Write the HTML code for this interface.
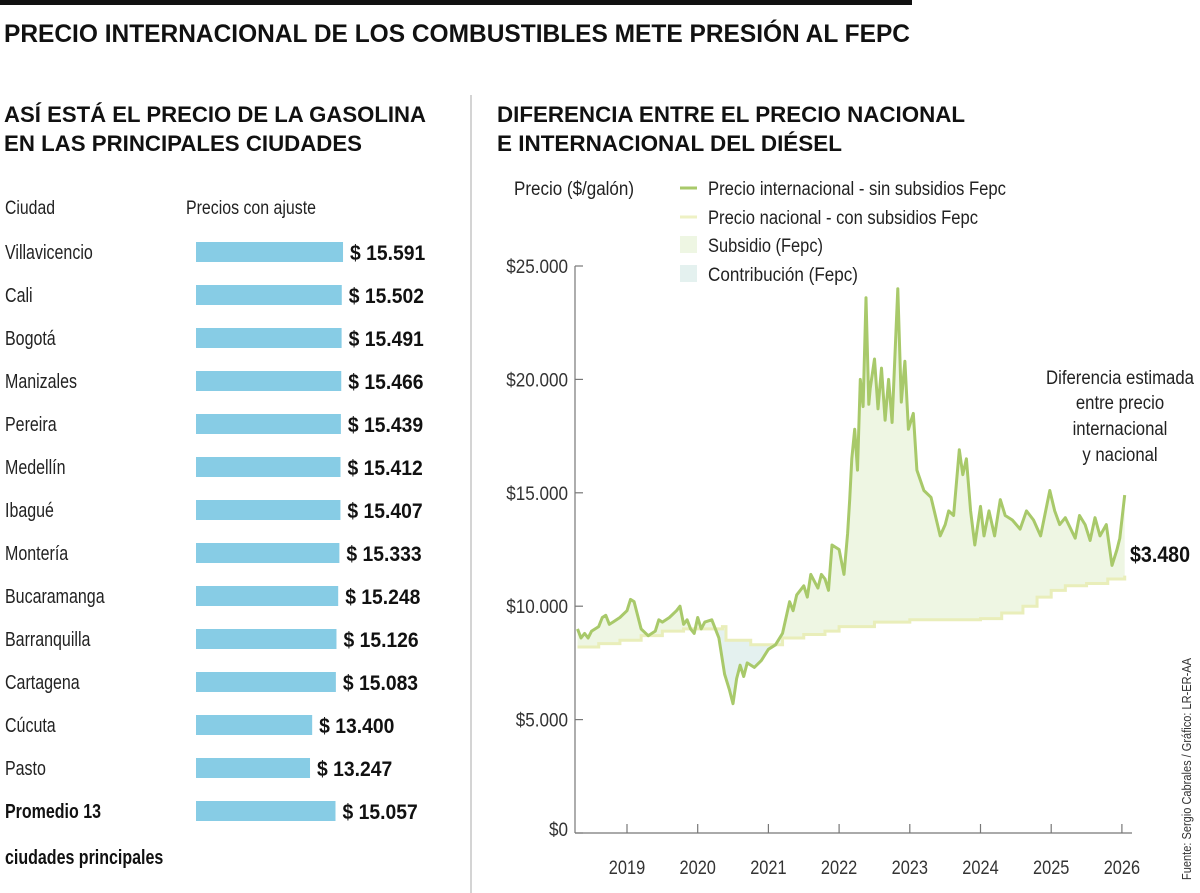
<!DOCTYPE html>
<html><head><meta charset="utf-8">
<style>
body{margin:0;background:#fff;}
svg{display:block;font-family:"Liberation Sans Narrow","Liberation Sans",sans-serif;}
</style></head><body>
<svg id="s" width="1200" height="893" viewBox="0 0 1200 893" xmlns="http://www.w3.org/2000/svg">
<rect x="0" y="0" width="912" height="5" fill="#111"/>
<text x="4" y="42" font-size="25" font-weight="bold" fill="#111" textLength="906" lengthAdjust="spacingAndGlyphs">PRECIO INTERNACIONAL DE LOS COMBUSTIBLES METE PRESIÓN AL FEPC</text>
<line x1="471" y1="95" x2="471" y2="893" stroke="#aaa" stroke-width="1"/>
<text x="4" y="122" font-size="22" font-weight="bold" fill="#111" textLength="422" lengthAdjust="spacingAndGlyphs">ASÍ ESTÁ EL PRECIO DE LA GASOLINA</text>
<text x="4" y="151" font-size="22" font-weight="bold" fill="#111" textLength="358" lengthAdjust="spacingAndGlyphs">EN LAS PRINCIPALES CIUDADES</text>
<text x="497" y="122" font-size="22" font-weight="bold" fill="#111" textLength="468" lengthAdjust="spacingAndGlyphs">DIFERENCIA ENTRE EL PRECIO NACIONAL</text>
<text x="497" y="151" font-size="22" font-weight="bold" fill="#111" textLength="345" lengthAdjust="spacingAndGlyphs">E INTERNACIONAL DEL DIÉSEL</text>
<text x="5" y="214" font-size="19" fill="#222" textLength="50" lengthAdjust="spacingAndGlyphs">Ciudad</text>
<text x="186" y="214" font-size="19" fill="#222" textLength="130" lengthAdjust="spacingAndGlyphs">Precios con ajuste</text>
<g id="bars"></g>
<text x="514" y="195" font-size="19" fill="#222" textLength="120" lengthAdjust="spacingAndGlyphs">Precio ($/galón)</text>
<g>
<line x1="680" y1="188" x2="697" y2="188" stroke="#a8c96a" stroke-width="3"/>
<text x="708" y="195" font-size="19" fill="#222" textLength="298" lengthAdjust="spacingAndGlyphs">Precio internacional - sin subsidios Fepc</text>
<line x1="680" y1="217" x2="697" y2="217" stroke="#eef1c4" stroke-width="3"/>
<text x="708" y="224" font-size="19" fill="#222" textLength="270" lengthAdjust="spacingAndGlyphs">Precio nacional - con subsidios Fepc</text>
<rect x="680" y="236" width="17" height="17" fill="#eef6e3"/>
<text x="708" y="252" font-size="19" fill="#222" textLength="115" lengthAdjust="spacingAndGlyphs">Subsidio (Fepc)</text>
<rect x="680" y="265" width="17" height="17" fill="#e4f1ef"/>
<text x="708" y="281" font-size="19" fill="#222" textLength="150" lengthAdjust="spacingAndGlyphs">Contribución (Fepc)</text>
</g>
<g id="chart"></g>
<g font-size="19" fill="#222" text-anchor="middle">
<text x="1120" y="384" textLength="148" lengthAdjust="spacingAndGlyphs">Diferencia estimada</text>
<text x="1120" y="409" data-c="0.88">entre precio</text>
<text x="1120" y="435" data-c="0.88">internacional</text>
<text x="1120" y="461" data-c="0.88">y nacional</text>
</g>
<text x="1130" y="562" font-size="22" font-weight="bold" fill="#111" textLength="60" lengthAdjust="spacingAndGlyphs">$3.480</text>
<text transform="translate(1191,880) rotate(-90)" font-size="13" fill="#333" textLength="222" lengthAdjust="spacingAndGlyphs">Fuente: Sergio Cabrales / Gráfico: LR-ER-AA</text>
</svg>
<script>
const cities=["Villavicencio","Cali","Bogotá","Manizales","Pereira","Medellín","Ibagué","Montería","Bucaramanga","Barranquilla","Cartagena","Cúcuta","Pasto","Promedio 13"];
const prices=[15591,15502,15491,15466,15439,15412,15407,15333,15248,15126,15083,13400,13247,15057];
const priceLabels=["$ 15.591","$ 15.502","$ 15.491","$ 15.466","$ 15.439","$ 15.412","$ 15.407","$ 15.333","$ 15.248","$ 15.126","$ 15.083","$ 13.400","$ 13.247","$ 15.057"];

const years=[2018.3,2018.35,2018.4,2018.45,2018.5,2018.6,2018.65,2018.7,2018.75,2018.8,2018.9,2019.0,2019.05,2019.1,2019.2,2019.3,2019.4,2019.45,2019.5,2019.6,2019.7,2019.75,2019.8,2019.85,2019.9,2019.95,2020.0,2020.05,2020.1,2020.2,2020.3,2020.38,2020.45,2020.5,2020.55,2020.6,2020.65,2020.7,2020.8,2020.9,2021.0,2021.1,2021.2,2021.3,2021.35,2021.4,2021.5,2021.55,2021.6,2021.7,2021.75,2021.8,2021.85,2021.9,2022.0,2022.07,2022.12,2022.15,2022.18,2022.22,2022.26,2022.3,2022.34,2022.38,2022.42,2022.44,2022.5,2022.55,2022.6,2022.65,2022.7,2022.75,2022.83,2022.88,2022.93,2022.98,2023.05,2023.1,2023.2,2023.3,2023.43,2023.5,2023.55,2023.62,2023.7,2023.75,2023.8,2023.86,2023.92,2024.0,2024.05,2024.12,2024.2,2024.28,2024.35,2024.45,2024.56,2024.65,2024.75,2024.85,2024.98,2025.05,2025.12,2025.2,2025.34,2025.4,2025.48,2025.55,2025.62,2025.69,2025.78,2025.86,2025.93,2025.97,2026.04];
const intlPrice=[9000,8600,8800,8600,8900,9100,9500,9600,9200,9300,9500,9800,10300,10200,9000,8700,8900,9400,9300,9500,9800,10000,9200,9400,9000,8800,9500,9000,9300,9400,8600,7000,6300,5700,6800,7400,6900,7500,7300,7600,8100,8300,8800,10200,9800,10500,10900,10400,11400,10800,11400,11200,10700,12700,12500,11400,13200,14700,16500,17800,16000,20000,18800,23600,18900,19600,20900,18700,20500,18200,20000,18100,24000,19000,20800,17800,18500,16000,15100,14800,13100,13600,14200,14000,16900,15800,16500,14200,12700,14400,13100,14200,13100,14700,14000,13800,13400,14200,13800,13100,15100,14200,13600,13900,13000,14000,13600,12900,13900,13100,13600,11800,12500,13000,14900];
const natYears=[2018.3,2018.6,2018.9,2019.2,2019.5,2019.8,2020.35,2020.4,2020.75,2021.15,2021.2,2021.5,2021.8,2022.0,2022.5,2023.0,2024.0,2024.3,2024.6,2024.8,2025.0,2025.2,2025.5,2025.8,2026.04];
const natPrice=[8200,8350,8500,8700,8900,9000,9100,8500,8300,8300,8600,8750,8900,9100,9300,9400,9450,9700,10000,10400,10700,10900,11000,11200,11350];
const yTickVals=[0,5000,10000,15000,20000,25000];
const yTickLabels=["$0","$5.000","$10.000","$15.000","$20.000","$25.000"];
const xTickVals=[2019,2020,2021,2022,2023,2024,2025,2026];
const xTickLabels=["2019","2020","2021","2022","2023","2024","2025","2026"];

const NS="http://www.w3.org/2000/svg";
function mk(tag,attrs,parent){const e=document.createElementNS(NS,tag);for(const k in attrs)e.setAttribute(k,attrs[k]);parent.appendChild(e);return e;}

// Bars
const bars=document.getElementById('bars');
const bx=196, pxPer=0.01408;
function bw(v){return v*pxPer-72.5;}
cities.forEach((c,i)=>{
  const cy=252+i*43;
  const t=mk('text',{x:5,y:cy+7,'font-size':20,fill:'#222','data-c':'0.8'},bars);
  t.textContent=c;
  
  
  if(i===cities.length-1){t.setAttribute('font-weight','bold');t.setAttribute('fill','#111');}
  const w=bw(prices[i]);
  const r=mk('rect',{x:bx,y:cy-10,width:w,height:20,fill:'#87cce5'},bars);
  
  
  const v=mk('text',{x:bx+w+7,y:cy+8,'font-size':21,'font-weight':'bold',fill:'#111','data-c':'0.92'},bars);
  v.textContent=priceLabels[i];
  
  
});
const extra=mk('text',{x:5,y:864,'font-size':20,fill:'#111','font-weight':'bold','data-c':'0.8'},bars);
extra.textContent="ciudades principales";



// Line chart
const g=document.getElementById('chart');
const X0=575, X1=1132, Y0=833;
function xs(yr){return 627+(yr-2019)*70.7;}
function ys(v){return Y0-v*0.02268;}
function interp(xsArr,ysArr,t){
  if(t<=xsArr[0])return ysArr[0];
  for(let i=1;i<xsArr.length;i++){if(t<=xsArr[i]){const f=(t-xsArr[i-1])/(xsArr[i]-xsArr[i-1]);return ysArr[i-1]+f*(ysArr[i]-ysArr[i-1]);}}
  return ysArr[ysArr.length-1];
}
function stepAt(t){let v=natPrice[0];for(let i=0;i<natYears.length;i++){if(natYears[i]<=t)v=natPrice[i];}return v;}
const grid=[];
const tmin=years[0], tmax=years[years.length-1];
for(let t=tmin;t<=tmax+1e-9;t+=0.005)grid.push(t);
let top1=[],bot1=[],top2=[],bot2=[];
grid.forEach(t=>{
  const a=interp(years,intlPrice,t), n=stepAt(t);
  top1.push([xs(t),ys(Math.max(a,n))]);bot1.push([xs(t),ys(n)]);
  top2.push([xs(t),ys(n)]);bot2.push([xs(t),ys(Math.min(a,n))]);
});
function poly(top,bot){return top.concat(bot.slice().reverse()).map(p=>p[0].toFixed(1)+','+p[1].toFixed(1)).join(' ');}
const sub=mk('polygon',{points:poly(top1,bot1),fill:'#eef6e3'},g);


const con=mk('polygon',{points:poly(top2,bot2),fill:'#e4f1ef'},g);


let d='';
natYears.forEach((t,i)=>{
  if(i===0)d+='M'+xs(t)+','+ys(natPrice[i]);
  else d+=' H'+xs(t)+' V'+ys(natPrice[i]);
});
const nl=mk('path',{d:d,fill:'none',stroke:'#e9eeba','stroke-width':3},g);


const il=mk('polyline',{points:years.map((t,i)=>xs(t).toFixed(1)+','+ys(intlPrice[i]).toFixed(1)).join(' '),fill:'none',stroke:'#a8c96a','stroke-width':3,'stroke-linejoin':'round'},g);


const ya=mk('line',{x1:X0,y1:ys(25000),x2:X0,y2:Y0,stroke:'#777','stroke-width':1.2},g);


const xa=mk('line',{x1:X0,y1:Y0,x2:X1,y2:Y0,stroke:'#777','stroke-width':1.2},g);


yTickVals.forEach((v,i)=>{
  mk('line',{x1:X0,y1:ys(v),x2:X0+8,y2:ys(v),stroke:'#777','stroke-width':1.2},g);
  const t=mk('text',{x:568,y:ys(v)+7-(v===0?4:0),'font-size':19,fill:'#333','text-anchor':'end','data-c':'0.9'},g);
  t.textContent=yTickLabels[i];
  
  
});
xTickVals.forEach((v,i)=>{
  mk('line',{x1:xs(v),y1:Y0,x2:xs(v),y2:Y0-9,stroke:'#777','stroke-width':1.2},g);
  const t=mk('text',{x:xs(v),y:874,'font-size':19,fill:'#333','text-anchor':'middle','data-c':'0.86'},g);
  t.textContent=xTickLabels[i];
  
  
});
// condense texts
document.querySelectorAll('text[data-c]').forEach(t=>{
  const f=parseFloat(t.getAttribute('data-c'));
  const L=t.getComputedTextLength();
  t.setAttribute('textLength',(L*f).toFixed(1));
  t.setAttribute('lengthAdjust','spacingAndGlyphs');
});
</script>
</body></html>
